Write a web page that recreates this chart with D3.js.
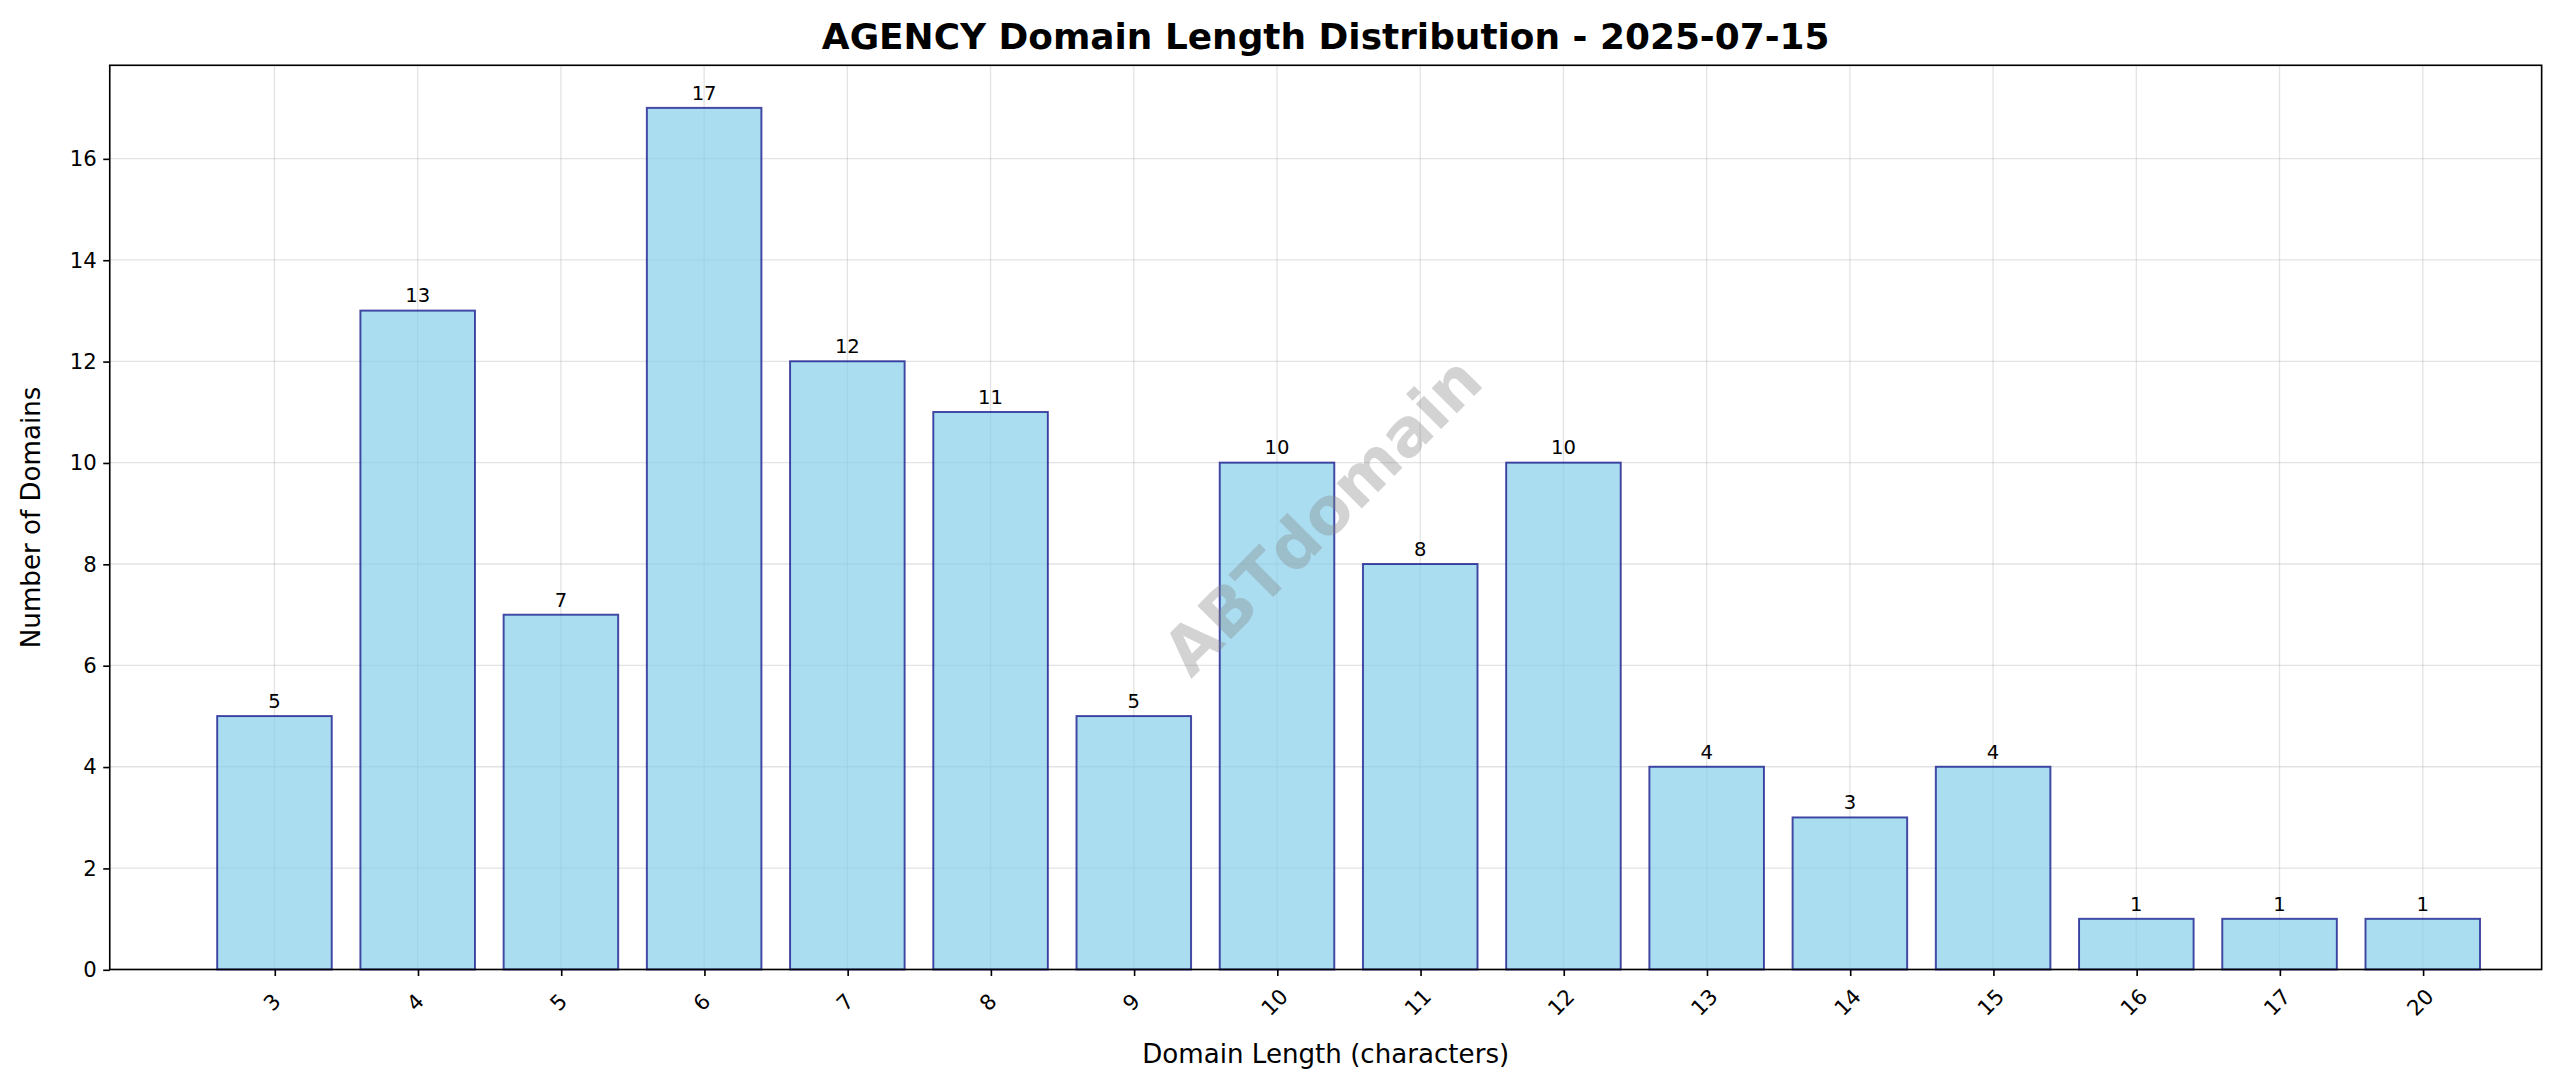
<!DOCTYPE html>
<html><head><meta charset="utf-8">
<script src="https://cdn.jsdelivr.net/npm/d3@7"></script>
<style>body{margin:0;background:#fff;overflow:hidden}text{font-family:"DejaVu Sans",sans-serif}</style>
</head><body>
<svg id="c" width="2560" height="1087" viewBox="0 0 1568 666"></svg>
<script>
const categories = ["3","4","5","6","7","8","9","10","11","12","13","14","15","16","17","20"];
const counts = [5,13,7,17,12,11,5,10,8,10,4,3,4,1,1,1];
const yTicks = [0,2,4,6,8,10,12,14,16];

const svg = d3.select("#c");
const L=67,R=1557,T=40,B=594;
const x = d3.scaleLinear().domain([-1.15,15.83]).range([L,R]);
const y = d3.scaleLinear().domain([0,17.84]).range([B,T]);
const unit = x(1)-x(0);

const g = svg.append("g");
g.selectAll(".gy").data(yTicks).join("line").attr("x1",L).attr("x2",R)
 .attr("y1",d=>y(d)).attr("y2",d=>y(d)).attr("stroke","#b0b0b0").attr("stroke-opacity",0.35).attr("stroke-width",0.8);
g.selectAll(".gx").data(categories).join("line").attr("y1",T).attr("y2",B)
 .attr("x1",(d,i)=>x(i)).attr("x2",(d,i)=>x(i)).attr("stroke","#b0b0b0").attr("stroke-opacity",0.35).attr("stroke-width",0.8);

g.selectAll(".bar").data(counts).join("rect")
 .attr("x",(d,i)=>x(i)-0.4*unit).attr("width",0.8*unit)
 .attr("y",d=>y(d)).attr("height",d=>y(0)-y(d))
 .attr("fill","#87ceeb").attr("fill-opacity",0.7)
 .attr("stroke","#000080").attr("stroke-opacity",0.7).attr("stroke-width",1.2);

g.selectAll(".vl").data(counts).join("text")
 .attr("x",(d,i)=>x(i)).attr("y",d=>y(d)-5).attr("text-anchor","middle")
 .attr("font-size",12).attr("fill","#000").text(d=>d);

svg.append("text").attr("transform","translate(812,318) rotate(-45)")
 .attr("text-anchor","middle").attr("dominant-baseline","middle")
 .attr("font-size",40).attr("font-weight","bold").attr("fill","#808080").attr("fill-opacity",0.35).text("ABTdomain");

svg.append("rect").attr("x",L).attr("y",T).attr("width",R-L).attr("height",B-T)
 .attr("fill","none").attr("stroke","#000").attr("stroke-width",1);

const ya = svg.append("g").attr("transform",`translate(${L},0)`)
 .call(d3.axisLeft(y).tickValues(yTicks).tickSize(4).tickPadding(4));
ya.select(".domain").remove();
ya.selectAll("text").attr("font-size",13).attr("font-family","DejaVu Sans").attr("fill","#000");

const xa = svg.append("g").attr("transform",`translate(0,${B})`)
 .call(d3.axisBottom(x).tickValues(d3.range(categories.length)).tickFormat(i=>categories[i]).tickSize(4));
xa.select(".domain").remove();
xa.selectAll("text").attr("font-size",13).attr("font-family","DejaVu Sans").attr("fill","#000")
 .attr("text-anchor","middle").attr("dy","0.35em").attr("y",0)
 .attr("transform","translate(-2,20) rotate(-45)");

svg.append("text").attr("x",(L+R)/2).attr("y",651).attr("text-anchor","middle").attr("font-size",16).text("Domain Length (characters)");
svg.append("text").attr("transform",`translate(24,${(T+B)/2}) rotate(-90)`).attr("text-anchor","middle").attr("font-size",16).text("Number of Domains");
svg.append("text").attr("x",(L+R)/2).attr("y",30).attr("text-anchor","middle").attr("font-size",22).attr("font-weight","bold").text("AGENCY Domain Length Distribution - 2025-07-15");
</script>
</body></html>
